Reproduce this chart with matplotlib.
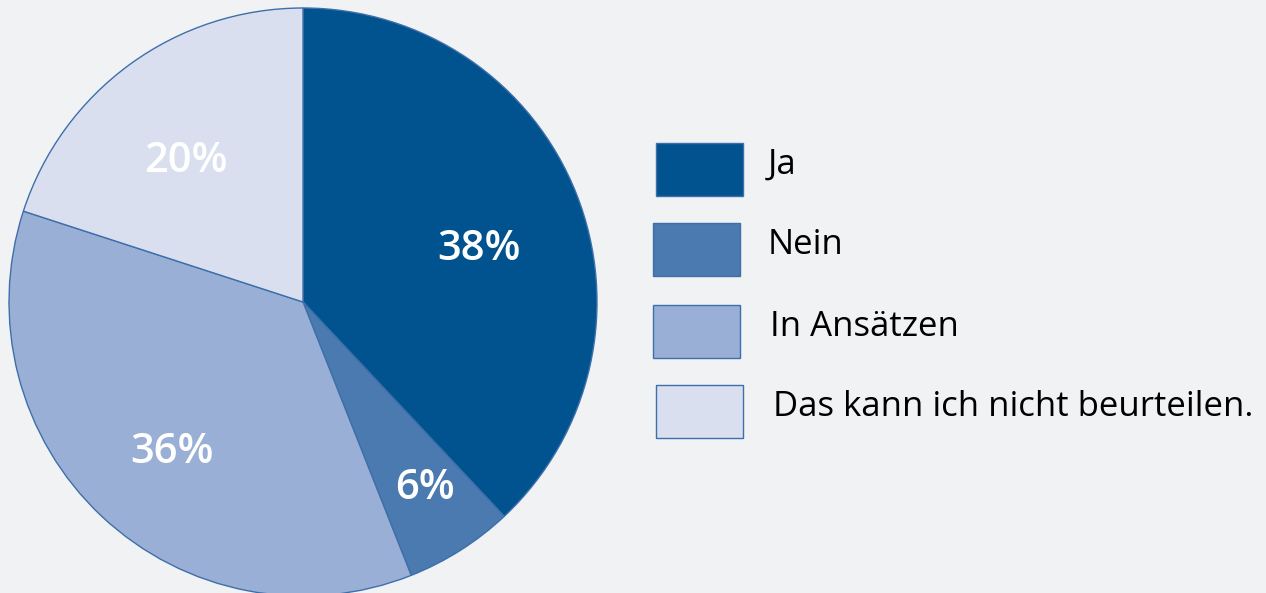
import numpy as np
import matplotlib.pyplot as plt
from matplotlib.patches import Rectangle

plt.rcParams['font.family'] = ['Open Sans', 'DejaVu Sans']

labels = ["Ja", "Nein", "In Ansätzen", "Das kann ich nicht beurteilen."]
values = [38, 6, 36, 20]
colors = ["#00538f", "#4a7ab0", "#9aafd5", "#d9dfee"]
edge = "#3d6fab"
bg = "#f1f2f4"

W, H = 1266, 593
fig = plt.figure(figsize=(W / 100, H / 100), dpi=100, facecolor=bg)
ax = fig.add_axes([0, 0, 1, 1])

cx, cy, r = 303, H - 302, 294
ax.pie(values, colors=colors, startangle=90, counterclock=False,
       center=(cx, cy), radius=r, frame=True,
       wedgeprops=dict(edgecolor=edge, linewidth=1))
ax.set_xlim(0, W)
ax.set_ylim(0, H)
ax.set_aspect('equal')
ax.axis('off')

# percentage labels (distance as fraction of radius, angle nudge in degrees)
label_dist = [0.63, 0.745, 0.667, 0.634]
label_turn = [-3.6, 1.4, 1.3, 2.9]
start = 90.0
for v, d, t in zip(values, label_dist, label_turn):
    mid = np.deg2rad(start - v * 3.6 / 2 + t)
    ax.text(cx + d * r * np.cos(mid), cy + d * r * np.sin(mid) - 4, f"{v}%",
            color="white", fontsize=30, fontweight="semibold",
            ha="center", va="center")
    start -= v * 3.6

# legend
box_x = [656, 653, 653, 656]
box_y = [143, 223, 305, 385]
text_x = [768, 768, 770, 773]
for lab, c, bx, by, tx in zip(labels, colors, box_x, box_y, text_x):
    ax.add_patch(Rectangle((bx, H - by - 53), 87, 53, facecolor=c,
                           edgecolor=edge, linewidth=1))
    ax.text(tx, H - by - 22, lab, fontsize=25, color="black",
            ha="left", va="center")

fig.savefig("out.png", dpi=100, facecolor=bg)
